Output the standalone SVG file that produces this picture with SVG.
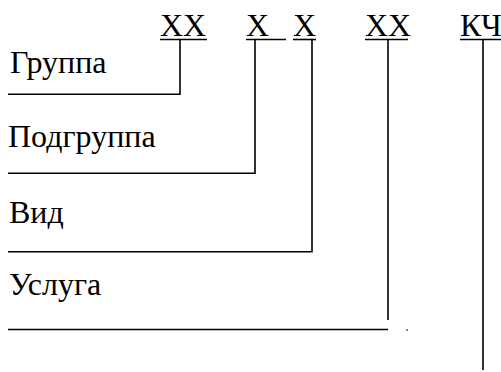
<svg xmlns="http://www.w3.org/2000/svg" width="501" height="372" viewBox="0 0 501 372">
<style>
text{font-family:"Liberation Serif","Times New Roman",serif;font-size:32px;fill:#000}
.ln{stroke:#000;stroke-width:1.6;fill:none}
</style>
<rect width="501" height="372" fill="#fff"/>
<g id="code-xx1"><text x="160" y="36">XX</text><line class="ln" x1="160" y1="39.5" x2="207" y2="39.5"/></g>
<g id="code-x2"><text x="246" y="36">X</text><line class="ln" x1="246" y1="39.5" x2="286" y2="39.5"/></g>
<g id="code-x3"><text x="293" y="36">X</text><line class="ln" x1="293" y1="39.5" x2="316" y2="39.5"/></g>
<g id="code-xx4"><text x="365" y="36">XX</text><line class="ln" x1="365" y1="39.5" x2="408" y2="39.5"/></g>
<g id="code-kch"><text x="460" y="36">КЧ</text><line class="ln" x1="460" y1="39.5" x2="501" y2="39.5"/></g>
<g id="label-group"><text x="10" y="73">Группа</text></g>
<g id="label-subgroup"><text x="8" y="147">Подгруппа</text></g>
<g id="label-kind"><text x="9" y="223">Вид</text></g>
<g id="label-service"><text x="9" y="295">Услуга</text></g>
<g id="connectors">
<polyline class="ln" points="180,39.5 180,94.3 8,94.3"/>
<polyline class="ln" points="255,39.5 255,173.3 8,173.3"/>
<polyline class="ln" points="312,39.5 312,251.7 8,251.7"/>
<line class="ln" x1="388" y1="39.5" x2="388" y2="320"/>
<line class="ln" x1="8" y1="329.5" x2="388" y2="329.5"/>
<rect x="406.3" y="329.3" width="1.4" height="1.4" fill="#000"/>
<line class="ln" x1="483" y1="39.5" x2="483" y2="370"/>
</g>
</svg>
